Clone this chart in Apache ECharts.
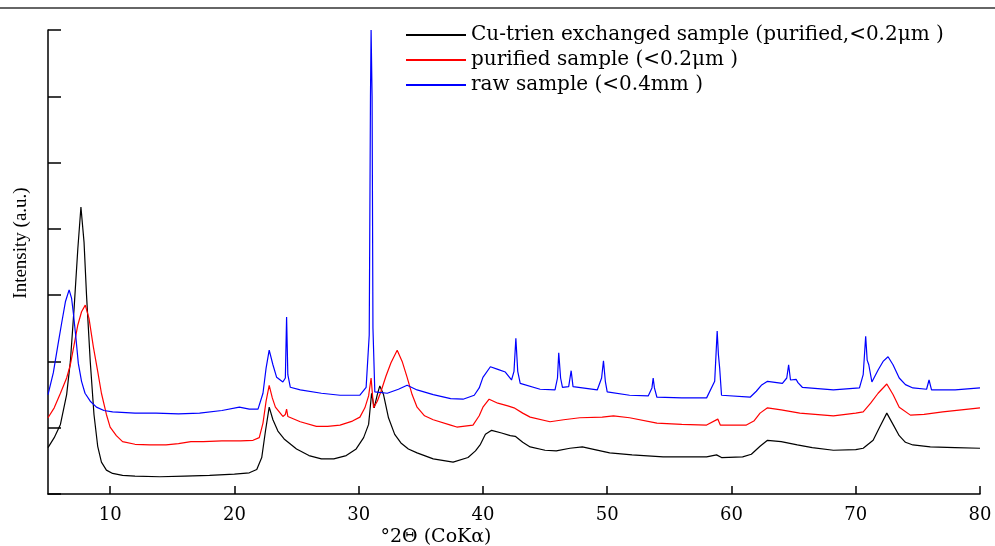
<!DOCTYPE html>
<html><head><meta charset="utf-8">
<script src="https://cdn.jsdelivr.net/npm/echarts@6/dist/echarts.min.js"></script>
<style>html,body{margin:0;padding:0;background:#fff}#c{width:995px;height:546px}</style>
</head><body><div id="c"></div>
<script>
const seriesNames = ['Cu-trien exchanged sample (purified,<0.2\u03bcm )', 'purified sample (<0.2\u03bcm )', 'raw sample (<0.4mm )'];
const xTicks = [10, 20, 30, 40, 50, 60, 70, 80];
const xAxisTitle = '\u00b02\u0398 (CoK\u03b1)';
const yAxisTitle = 'Intensity (a.u.)';

const cuTrien = [[5.0,0.70],[5.5,0.85],[6.0,1.05],[6.5,1.5],[6.8,2.0],[7.1,2.8],[7.4,3.7],[7.65,4.33],[7.9,3.8],[8.1,3.0],[8.4,2.0],[8.7,1.2],[9.0,0.72],[9.3,0.48],[9.7,0.36],[10.2,0.31],[11,0.28],[12,0.27],[14,0.26],[16,0.27],[18,0.28],[20,0.30],[21.2,0.32],[21.8,0.37],[22.2,0.55],[22.5,0.95],[22.8,1.31],[23.1,1.12],[23.5,0.95],[24,0.83],[25,0.68],[26,0.58],[27,0.53],[28,0.53],[29,0.58],[29.8,0.68],[30.4,0.85],[30.8,1.05],[31.04,1.52],[31.25,1.3],[31.5,1.5],[31.7,1.63],[32.0,1.5],[32.4,1.15],[32.9,0.9],[33.4,0.77],[34.0,0.68],[34.7,0.62],[36,0.53],[37.6,0.48],[38.8,0.55],[39.4,0.65],[39.8,0.75],[40.2,0.9],[40.7,0.96],[41.5,0.92],[42.2,0.88],[42.6,0.87],[43.2,0.78],[43.8,0.71],[45.0,0.66],[45.9,0.65],[47,0.69],[48,0.71],[49,0.67],[50.2,0.62],[52,0.59],[54.5,0.56],[56,0.56],[58.0,0.56],[58.8,0.59],[59.2,0.55],[60.9,0.56],[61.6,0.6],[62.3,0.72],[62.9,0.81],[64,0.79],[65.3,0.74],[66.5,0.70],[68.2,0.66],[70.0,0.67],[70.6,0.69],[71.4,0.81],[71.9,1.0],[72.5,1.22],[73.0,1.05],[73.5,0.88],[74.0,0.78],[74.6,0.74],[76,0.71],[78,0.70],[80,0.69]];

const purified = [[5,1.15],[5.5,1.3],[6.0,1.52],[6.5,1.75],[6.8,1.95],[7.1,2.25],[7.4,2.55],[7.7,2.75],[8.0,2.85],[8.3,2.65],[8.65,2.22],[9.0,1.85],[9.3,1.52],[9.7,1.2],[10.0,1.01],[10.5,0.88],[11.0,0.79],[12,0.75],[13.2,0.74],[14.5,0.74],[15.5,0.76],[16.5,0.79],[17.5,0.79],[19,0.80],[20.5,0.80],[21.5,0.81],[22.0,0.85],[22.3,1.07],[22.55,1.4],[22.8,1.64],[23.05,1.45],[23.3,1.31],[23.9,1.17],[24.1,1.2],[24.2,1.28],[24.3,1.17],[25.3,1.09],[26.6,1.02],[27.5,1.02],[28.5,1.04],[29.5,1.1],[30.1,1.16],[30.5,1.3],[30.8,1.48],[31.0,1.75],[31.2,1.30],[31.5,1.40],[31.8,1.55],[32.2,1.78],[32.6,1.98],[33.1,2.17],[33.5,2.0],[33.9,1.76],[34.3,1.5],[34.7,1.31],[35.3,1.18],[36.0,1.12],[37.4,1.04],[37.9,1.01],[39.2,1.04],[39.7,1.18],[40.0,1.31],[40.5,1.43],[41.2,1.37],[42.0,1.33],[42.5,1.30],[43.2,1.22],[43.8,1.16],[45.4,1.09],[46.5,1.12],[47.8,1.15],[49.6,1.16],[50.5,1.18],[51.8,1.15],[54.0,1.07],[56,1.05],[58.0,1.04],[58.9,1.13],[59.1,1.04],[61.2,1.04],[61.8,1.1],[62.3,1.22],[62.9,1.30],[64,1.27],[65.5,1.22],[68.2,1.18],[70.0,1.22],[70.6,1.24],[71.2,1.37],[71.8,1.52],[72.5,1.66],[73.0,1.5],[73.5,1.31],[74.4,1.19],[75.5,1.2],[77,1.24],[78.5,1.27],[80,1.30]];

const raw = [[5,1.5],[5.43,1.83],[5.8,2.25],[6.1,2.58],[6.4,2.9],[6.7,3.08],[6.9,2.95],[7.04,2.73],[7.25,2.35],[7.44,1.97],[7.7,1.7],[7.98,1.52],[8.4,1.4],[8.9,1.31],[9.5,1.26],[10.2,1.24],[12,1.22],[13.7,1.22],[15.5,1.21],[17.2,1.22],[19,1.26],[20.4,1.31],[21.2,1.28],[21.9,1.28],[22.3,1.52],[22.55,1.9],[22.8,2.17],[23.1,1.95],[23.4,1.76],[23.9,1.69],[24.1,1.75],[24.2,2.67],[24.3,1.8],[24.5,1.61],[25.3,1.57],[27,1.52],[28.5,1.49],[30.1,1.49],[30.6,1.61],[30.85,2.4],[30.95,6.0],[31.0,7.0],[31.08,6.0],[31.15,2.5],[31.3,1.54],[32.3,1.52],[33.2,1.58],[33.9,1.64],[34.7,1.57],[36,1.5],[37.4,1.44],[38.4,1.43],[39.3,1.49],[39.7,1.6],[40.0,1.76],[40.6,1.92],[41.2,1.88],[41.8,1.84],[42.3,1.72],[42.5,1.85],[42.65,2.35],[42.8,1.85],[43.0,1.67],[44.6,1.58],[45.8,1.57],[46.0,1.75],[46.1,2.13],[46.25,1.75],[46.4,1.61],[46.9,1.62],[47.1,1.86],[47.25,1.62],[47.4,1.6],[49.2,1.57],[49.55,1.75],[49.7,2.01],[49.85,1.7],[50.0,1.54],[51.8,1.49],[53.3,1.48],[53.6,1.6],[53.7,1.75],[53.8,1.6],[54.0,1.46],[56,1.45],[58.0,1.45],[58.65,1.7],[58.85,2.46],[58.95,2.1],[59.05,1.9],[59.2,1.49],[61.5,1.46],[62.0,1.55],[62.4,1.64],[62.9,1.70],[64.1,1.67],[64.45,1.75],[64.6,1.95],[64.75,1.72],[64.9,1.69],[65.2,1.73],[65.35,1.68],[65.7,1.61],[68.2,1.57],[70.3,1.6],[70.6,1.8],[70.8,2.38],[70.92,2.02],[71.05,1.95],[71.3,1.69],[71.8,1.87],[72.2,2.0],[72.6,2.07],[73.0,1.95],[73.5,1.75],[74.0,1.65],[74.6,1.6],[75.7,1.58],[75.9,1.72],[76.1,1.57],[78,1.57],[80,1.60]];

const serif = 'DejaVu Serif';
const chart = echarts.init(document.getElementById('c'), null, {renderer: 'canvas'});
chart.setOption({
  animation: false,
  backgroundColor: '#fff',
  grid: {left: 48, right: 15, top: 30, bottom: 52, containLabel: false},
  legend: {
    orient: 'vertical', left: 405, top: 25, padding: 0,
    itemWidth: 60, itemHeight: 14, itemGap: 5,
    itemStyle: {opacity: 0},
    textStyle: {fontFamily: serif, fontSize: 20, color: '#000', lineHeight: 20},
    data: seriesNames
  },
  xAxis: {
    type: 'value', min: 5, max: 80,
    axisLine: {lineStyle: {color: '#000', width: 1.5}},
    axisTick: {inside: true, length: 8, lineStyle: {color: '#000', width: 1.5}, customValues: xTicks},
    axisLabel: {fontFamily: serif, fontSize: 18, color: '#000', margin: 12, customValues: xTicks},
    splitLine: {show: false}
  },
  yAxis: {
    type: 'value', min: 0, max: 7, interval: 1,
    axisLine: {show: true, lineStyle: {color: '#000', width: 1.5}},
    axisTick: {show: true, inside: true, length: 13, lineStyle: {color: '#000', width: 1.5}},
    axisLabel: {show: false},
    splitLine: {show: false}
  },
  graphic: [
    {type: 'line', shape: {x1: 0, y1: 8, x2: 995, y2: 8}, style: {stroke: '#333', lineWidth: 1.5}},
    {type: 'text', x: 436, y: 537, style: {text: xAxisTitle, font: '19px "DejaVu Serif"', fill: '#000', textAlign: 'center', textVerticalAlign: 'middle'}},
    {type: 'text', x: 21, y: 243, rotation: Math.PI / 2, style: {text: yAxisTitle, font: '19px "Liberation Serif"', fill: '#000', textAlign: 'center', textVerticalAlign: 'middle'}}
  ],
  series: [
    {name: seriesNames[0], type: 'line', data: cuTrien, symbol: 'none', lineStyle: {color: '#000', width: 1.2}, itemStyle: {color: '#000'}},
    {name: seriesNames[1], type: 'line', data: purified, symbol: 'none', lineStyle: {color: '#ff0000', width: 1.2}, itemStyle: {color: '#ff0000'}},
    {name: seriesNames[2], type: 'line', data: raw, symbol: 'none', lineStyle: {color: '#0000ff', width: 1.2}, itemStyle: {color: '#0000ff'}}
  ]
});
</script></body></html>
